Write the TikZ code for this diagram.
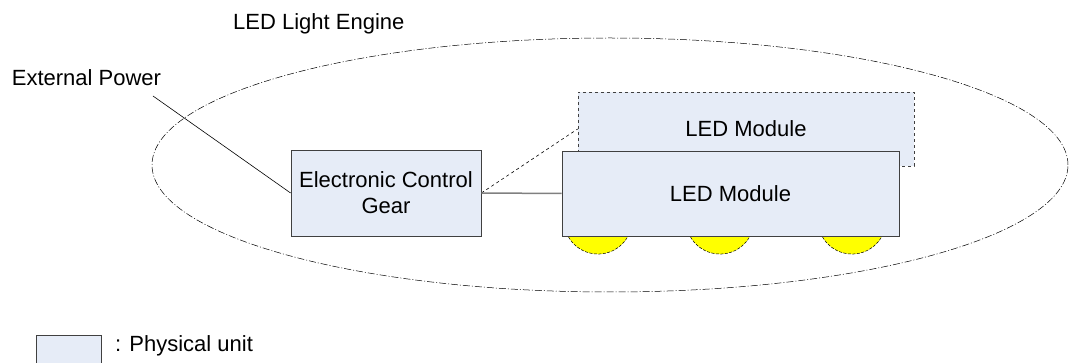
\documentclass[tikz,border=0pt]{standalone}
\usepackage{fontspec}
\setmainfont{Liberation Sans}
\usetikzlibrary{shapes,shapes.geometric,positioning,calc}
\definecolor{unitfill}{RGB}{230,236,247}
\definecolor{unitline}{RGB}{64,64,64}
\definecolor{ledyellow}{RGB}{255,255,0}

\begin{document}
\begin{tikzpicture}[x=1pt, y=-1pt, font=\fontsize{22}{26}\selectfont,
    unit/.style={draw=unitline, fill=unitfill, line width=0.8pt, align=center, inner sep=0pt},
    engine/.style={draw=black, line width=0.5pt, dash pattern=on 7pt off 2pt on 1pt off 2pt},
    lamp/.style={draw=black, fill=ledyellow, line width=0.5pt, dash pattern=on 3pt off 1.5pt}]
    \useasboundingbox (0,0) rectangle (1072,363);
    % light engine outline
    \node [engine, ellipse, minimum width=916, minimum height=254] (E) at (610,165) {};
    \node [anchor=base west, inner sep=0pt] (EL) at (233,29.3) {LED Light Engine};
    \node [anchor=base west, inner sep=0pt] (P) at (11.7,86) {External Power};
    \coordinate (p) at (153,96);
    % units
    \node [unit, minimum width=190, minimum height=86] (G) at (386,193) {Electronic Control\\Gear};
    \node [unit, dashed, minimum width=336, minimum height=74] (M2) at (746,129) {LED Module};
    \foreach \x/\n in {598/a,720/b,852/c} {
      \coordinate (l\n) at (\x,237);
      \path [lamp] ($(l\n)+(-29.5,0)$) arc [start angle=150, end angle=30, radius=34.1];
    }
    \node [unit, minimum width=337, minimum height=85] (M1) at (730.5,193.5) {LED Module};
    \path (p) edge [draw=black, line width=0.6pt] (G.west)
          (G.east) edge [draw=black, dashed, line width=0.6pt] (M2.west)
          (G.east) edge [draw=gray, line width=1.5pt] (M1.west);
    % legend
    \node [unit, minimum width=65, minimum height=34, anchor=north west] (K) at (36,335) {};
    \node [anchor=base west, inner sep=0pt] (KL) at (115,351.5) {: Physical unit};
\end{tikzpicture}
\end{document}
